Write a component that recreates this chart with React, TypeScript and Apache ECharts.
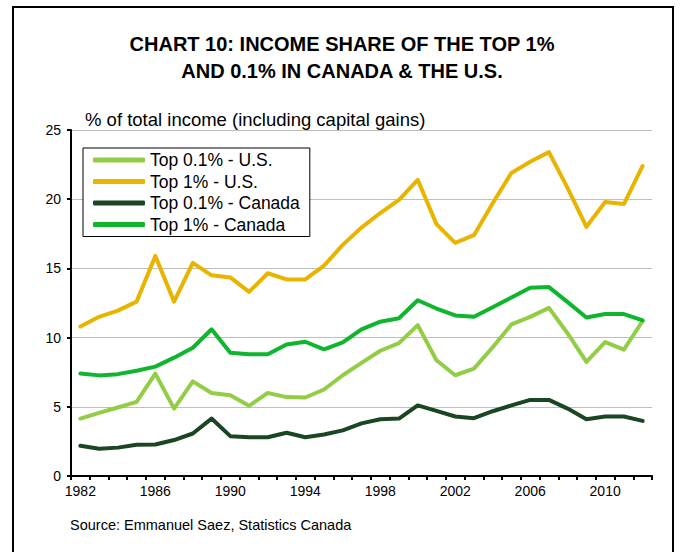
import React, { useEffect, useRef } from "react";
import * as echarts from "echarts";

const years = [
  "1982", "1983", "1984", "1985", "1986", "1987", "1988", "1989", "1990", "1991",
  "1992", "1993", "1994", "1995", "1996", "1997", "1998", "1999", "2000", "2001",
  "2002", "2003", "2004", "2005", "2006", "2007", "2008", "2009", "2010", "2011", "2012",
];

const top01US = [
  4.15, 4.56, 4.95, 5.36, 7.4, 4.87, 6.84, 6.0, 5.84, 5.07,
  6.0, 5.7, 5.67, 6.25, 7.28, 8.17, 9.05, 9.6, 10.9, 8.36,
  7.28, 7.76, 9.3, 10.95, 11.5, 12.15, 10.3, 8.24, 9.68, 9.13, 11.2,
];

const top1US = [
  10.8, 11.5, 11.95, 12.6, 15.9, 12.6, 15.4, 14.5, 14.35, 13.3,
  14.65, 14.2, 14.2, 15.2, 16.7, 17.95, 19.0, 19.95, 21.4, 18.2,
  16.85, 17.4, 19.7, 21.9, 22.7, 23.4, 20.8, 18.0, 19.8, 19.65, 22.4,
];

const top01CA = [
  2.19, 1.97, 2.05, 2.26, 2.28, 2.6, 3.07, 4.15, 2.88, 2.8,
  2.8, 3.12, 2.8, 3.0, 3.3, 3.8, 4.1, 4.15, 5.1, 4.7,
  4.3, 4.18, 4.68, 5.1, 5.5, 5.5, 4.87, 4.1, 4.3, 4.3, 3.98,
];

const top1CA = [
  7.4, 7.27, 7.36, 7.6, 7.9, 8.55, 9.27, 10.6, 8.9, 8.8,
  8.8, 9.5, 9.7, 9.15, 9.65, 10.6, 11.15, 11.4, 12.7, 12.1,
  11.6, 11.5, 12.2, 12.9, 13.6, 13.65, 12.56, 11.45, 11.7, 11.7, 11.25,
];

const seriesNames = [
  "Top 0.1% - U.S.",
  "Top 1% - U.S.",
  "Top 0.1% - Canada",
  "Top 1% - Canada",
];
const seriesColors = ["#92CD45", "#E8B400", "#1B4624", "#10B52E"];
const seriesData = [top01US, top1US, top01CA, top1CA];

const FONT = "'Liberation Sans', Arial, sans-serif";

export default function App() {
  const ref = useRef<HTMLDivElement>(null);

  useEffect(() => {
    if (!ref.current) return;
    const chart = echarts.init(ref.current, null, { renderer: "svg" });
    chart.setOption({
      animation: false,
      backgroundColor: "#ffffff",
      textStyle: { fontFamily: FONT },
      title: [
        {
          text: "CHART 10: INCOME SHARE OF THE TOP 1%\nAND 0.1% IN CANADA & THE U.S.",
          left: 342,
          top: 30,
          textAlign: "center",
          padding: 0,
          textStyle: {
            fontFamily: FONT,
            fontSize: 20,
            fontWeight: "bold",
            color: "#000",
            lineHeight: 27,
          },
        },
        {
          text: "% of total income (including capital gains)",
          left: 85,
          top: 110,
          padding: 0,
          textStyle: { fontFamily: FONT, fontSize: 18.5, fontWeight: "normal", color: "#000" },
        },
        {
          text: "Source: Emmanuel Saez, Statistics Canada",
          left: 70,
          top: 517,
          padding: 0,
          textStyle: { fontFamily: FONT, fontSize: 14.5, fontWeight: "normal", color: "#000" },
        },
      ],
      graphic: [
        {
          type: "rect",
          shape: { x: 13, y: 7, width: 660, height: 600 },
          style: { fill: "none", stroke: "#000", lineWidth: 2 },
          silent: true,
          z: 100,
        },
      ],
      legend: {
        data: seriesNames,
        orient: "vertical",
        left: 83,
        top: 148,
        padding: [3, 10, 3, 10],
        itemGap: 3.5,
        itemWidth: 52,
        itemHeight: 5,
        icon: "roundRect",
        borderColor: "#000",
        borderWidth: 1,
        backgroundColor: "#fff",
        textStyle: { fontFamily: FONT, fontSize: 17.5, color: "#000", lineHeight: 17.5 },
      },
      grid: { left: 71, right: 28, top: 130, bottom: 76, containLabel: false },
      xAxis: {
        type: "category",
        data: years,
        boundaryGap: true,
        axisLine: { lineStyle: { color: "#000", width: 2 } },
        axisTick: { show: true, interval: 0, length: 4, lineStyle: { color: "#000", width: 2 } },
        axisLabel: { interval: 3, fontFamily: FONT, fontSize: 14, color: "#000", margin: 8 },
        splitLine: { show: false },
      },
      yAxis: {
        type: "value",
        min: 0,
        max: 25,
        interval: 5,
        axisLine: { show: true, lineStyle: { color: "#000", width: 2 } },
        axisTick: { show: true, length: 4, lineStyle: { color: "#000", width: 2 } },
        axisLabel: { fontFamily: FONT, fontSize: 14, color: "#000", margin: 10 },
        splitLine: { show: true, lineStyle: { color: "#BEBEBE", width: 1 } },
      },
      series: seriesNames.map((name, i) => ({
        name,
        type: "line",
        data: seriesData[i],
        symbol: "none",
        color: seriesColors[i],
        lineStyle: { color: seriesColors[i], width: 4, cap: "round", join: "round" },
        z: 3,
      })),
    });
    return () => chart.dispose();
  }, []);

  return (
    <div
      ref={ref}
      style={{ position: "absolute", left: 0, top: 0, width: 680, height: 552 }}
    />
  );
}
